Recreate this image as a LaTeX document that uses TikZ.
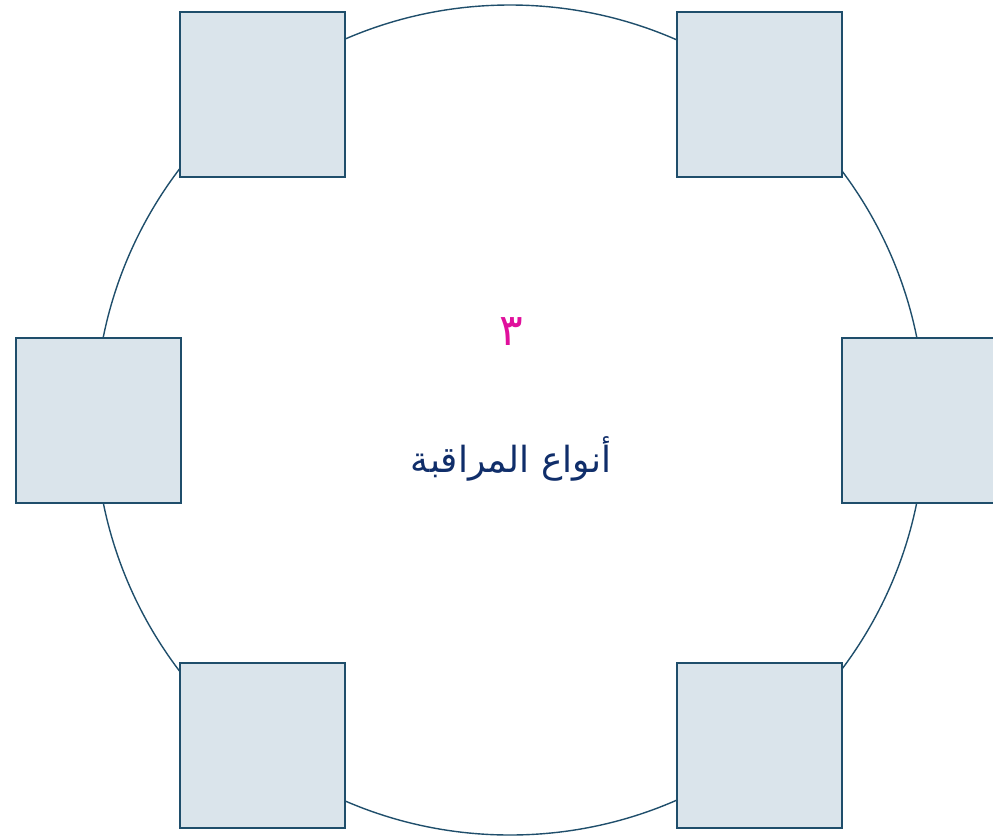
\documentclass[tikz,border=0pt]{standalone}
\usepackage{fontspec}
\newfontfamily\arabicfont[Script=Arabic]{DejaVu Sans}
\TeXXeTstate=1
\definecolor{linec}{HTML}{1F4E6B}
\definecolor{boxfill}{HTML}{DAE4EB}
\definecolor{navy}{HTML}{102E6A}
\definecolor{magentac}{HTML}{E0109C}
\begin{document}
\begin{tikzpicture}[x=1pt,y=-1pt,
  sq/.style={draw=linec,line width=1.6pt,fill=boxfill,minimum width=165pt,minimum height=165pt,inner sep=0pt,outer sep=0pt},
  ring/.style={draw=linec,line width=1.4pt}]
\useasboundingbox (0,0) rectangle (993,839);
\clip (0,0) rectangle (993,839);
\node[circle,ring,minimum size=830pt,inner sep=0pt] (c) at (510,420) {};
\node[sq] (b1) at (262.5,94.5) {};
\node[sq] (b2) at (759.5,94.5) {};
\node[sq] (b3) at (98.5,420.5) {};
\node[sq] (b4) at (924.5,420.5) {};
\node[sq] (b5) at (262.5,745.5) {};
\node[sq] (b6) at (759.5,745.5) {};
\node[text=magentac,font=\arabicfont\fontsize{44}{50}\selectfont] (n) at (511,332) {\beginR ٣\endR};
\node[text=navy,font=\arabicfont\fontsize{36}{42}\selectfont] (t) at (511,459) {\beginR أنواع المراقبة\endR};
\end{tikzpicture}
\end{document}
